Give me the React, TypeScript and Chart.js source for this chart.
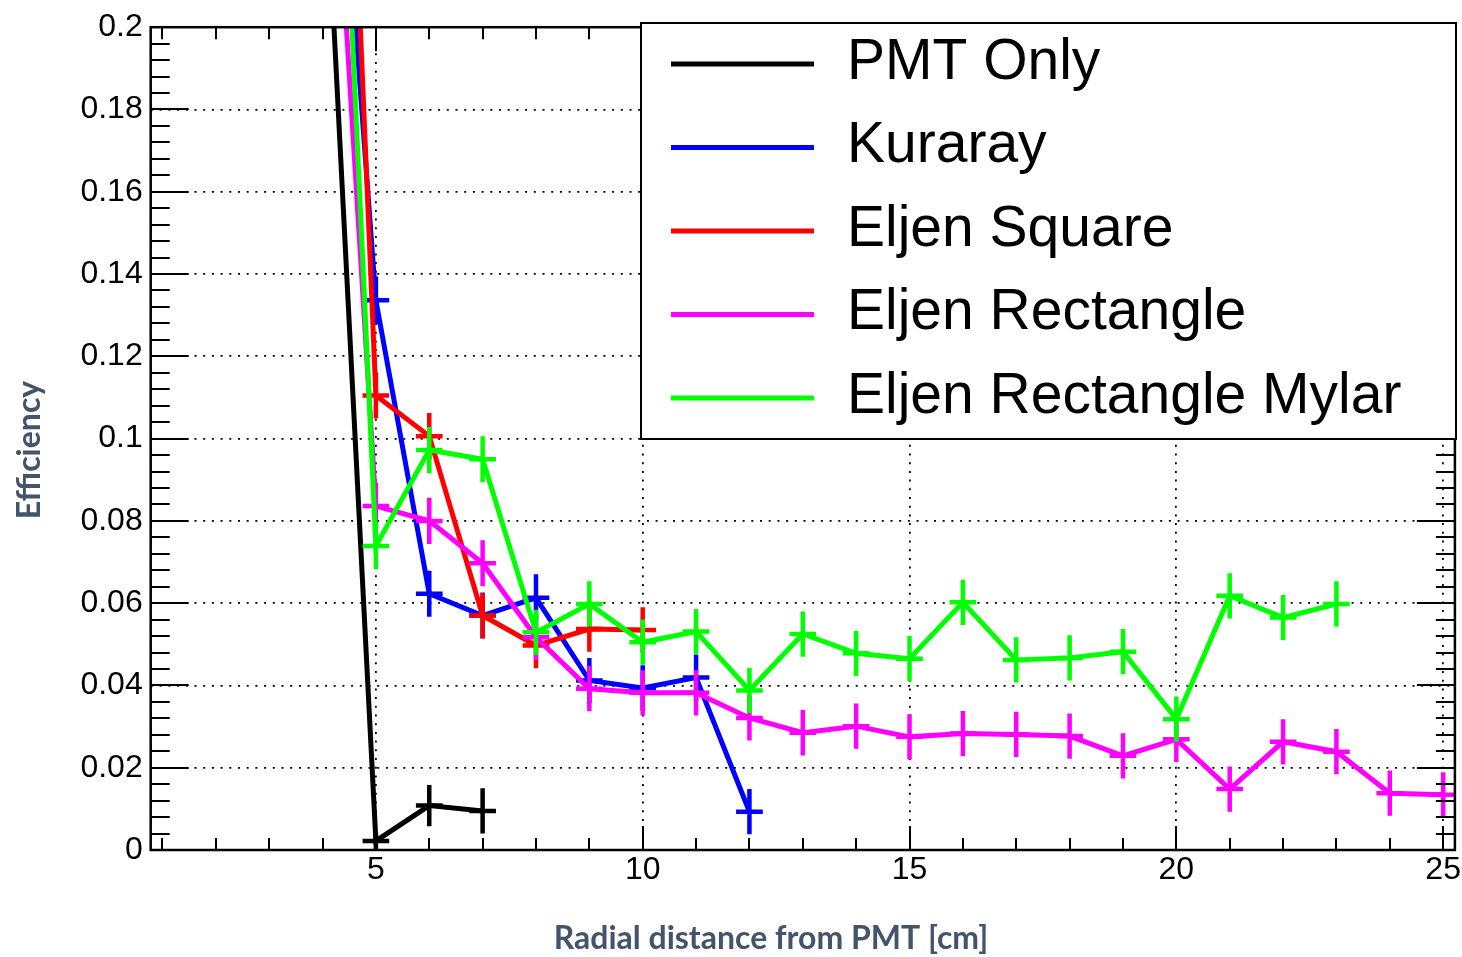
import React, { useEffect, useRef } from 'react';
import { Chart, registerables } from 'chart.js';

Chart.register(...registerables);

// ---- data ----
const X_TICKS = [5, 10, 15, 20, 25];
const Y_TICKS = [0, 0.02, 0.04, 0.06, 0.08, 0.1, 0.12, 0.14, 0.16, 0.18, 0.2];
const SERIES_NAMES = ['PMT Only', 'Kuraray', 'Eljen Square', 'Eljen Rectangle', 'Eljen Rectangle Mylar'];
const SERIES_COLORS = ['#000000', '#0000ff', '#ff0000', '#ff00ff', '#00ff00'];

const PMT_X = [4, 5, 6, 7];
const PMT_Y = [0.254, 0.0022, 0.0108, 0.0095];
const PMT_ERR = [0.0055, 0.002, 0.005, 0.0055];

const KURARAY_X = [4, 5, 6, 7, 8, 9, 10, 11, 12];
const KURARAY_Y = [0.309, 0.1336, 0.0623, 0.057, 0.0613, 0.0412, 0.0394, 0.0419, 0.0093];
const KURARAY_ERR = [0.0058, 0.0058, 0.0056, 0.0056, 0.0057, 0.0055, 0.0055, 0.0056, 0.0055];

const SQUARE_X = [4, 5, 6, 7, 8, 9, 10];
const SQUARE_Y = [0.417, 0.1105, 0.1006, 0.057, 0.0497, 0.0537, 0.0535];
const SQUARE_ERR = [0.0056, 0.0056, 0.0056, 0.0055, 0.0055, 0.0055, 0.0055];

const RECT_X = [4, 5, 6, 7, 8, 9, 10, 11, 12, 13, 14, 15, 16, 17, 18, 19, 20, 21, 22, 23, 24, 25];
const RECT_Y = [0.294, 0.0836, 0.08, 0.0697, 0.0517, 0.0392, 0.0382, 0.0382, 0.0321, 0.0285, 0.0301, 0.0275, 0.0283, 0.0281, 0.0277, 0.0229, 0.0269, 0.0148, 0.0263, 0.0239, 0.0138, 0.0134];
const RECT_ERR = [0.0056, 0.0056, 0.0056, 0.0056, 0.0055, 0.0055, 0.0055, 0.0055, 0.0055, 0.0055, 0.0055, 0.0055, 0.0055, 0.0055, 0.0055, 0.0055, 0.0055, 0.0055, 0.0055, 0.0055, 0.0055, 0.0055];

const MYLAR_X = [4, 5, 6, 7, 8, 9, 10, 11, 12, 13, 14, 15, 16, 17, 18, 19, 20, 21, 22, 23];
const MYLAR_Y = [0.355, 0.0739, 0.0972, 0.095, 0.0529, 0.0598, 0.0505, 0.0531, 0.0388, 0.0525, 0.0478, 0.0465, 0.0602, 0.0462, 0.0467, 0.0482, 0.0318, 0.0618, 0.0565, 0.0598];
const MYLAR_ERR = [0.0056, 0.0056, 0.0056, 0.0056, 0.0055, 0.0055, 0.0055, 0.0055, 0.0055, 0.0055, 0.0055, 0.0055, 0.0055, 0.0055, 0.0055, 0.0055, 0.0055, 0.0055, 0.0055, 0.0055];

const X_MIN = 0.78;
const X_MAX = 25.22;
const Y_MIN = 0;
const Y_MAX = 0.2;
const X_TITLE = 'Radial distance from PMT [cm]';
const Y_TITLE = 'Efficiency';

// ---- style constants ----
const X_HALF_BAR = 0.25; // half-width of the horizontal marker bar (x units)
const X_MINOR_STEP = 1;
const Y_MINOR_STEP = 0.004;
const TITLE_COLOR = '#44546A';

const SERIES_X = [PMT_X, KURARAY_X, SQUARE_X, RECT_X, MYLAR_X];
const SERIES_Y = [PMT_Y, KURARAY_Y, SQUARE_Y, RECT_Y, MYLAR_Y];
const SERIES_ERR = [PMT_ERR, KURARAY_ERR, SQUARE_ERR, RECT_ERR, MYLAR_ERR];

const rootStyle = {
  id: 'rootStyle',
  afterDatasetDraw(chart: any, args: any) {
    const ds: any = chart.data.datasets[args.index];
    const { ctx, chartArea: a, scales } = chart;
    const xs = scales.x;
    const ys = scales.y;
    ctx.save();
    ctx.beginPath();
    ctx.rect(a.left, a.top, a.right - a.left, a.bottom - a.top);
    ctx.clip();
    ctx.strokeStyle = ds.borderColor;
    ctx.lineWidth = 4.5;
    ctx.lineCap = 'butt';
    ds.data.forEach((p: any, i: number) => {
      const px = xs.getPixelForValue(p.x);
      const py = ys.getPixelForValue(p.y);
      const e = ds.errY[i];
      ctx.beginPath();
      ctx.moveTo(xs.getPixelForValue(p.x - X_HALF_BAR), py);
      ctx.lineTo(xs.getPixelForValue(p.x + X_HALF_BAR), py);
      ctx.moveTo(px, ys.getPixelForValue(p.y - e));
      ctx.lineTo(px, ys.getPixelForValue(p.y + e));
      ctx.stroke();
    });
    ctx.restore();
  },
  afterDraw(chart: any) {
    const { ctx, chartArea: a, scales } = chart;
    const xs = scales.x;
    const ys = scales.y;
    ctx.save();
    // inner ticks
    ctx.strokeStyle = '#000';
    ctx.lineWidth = 2;
    ctx.beginPath();
    const nY = Math.round((Y_MAX - Y_MIN) / Y_MINOR_STEP);
    for (let i = 0; i <= nY; i++) {
      const v = Y_MIN + i * Y_MINOR_STEP;
      const major = i % 5 === 0;
      const len = major ? 38 : 19;
      const py = Math.round(ys.getPixelForValue(v));
      ctx.moveTo(a.left, py);
      ctx.lineTo(a.left + len, py);
      ctx.moveTo(a.right, py);
      ctx.lineTo(a.right - len, py);
    }
    for (let v = Math.ceil(X_MIN); v <= X_MAX; v += X_MINOR_STEP) {
      const major = X_TICKS.includes(v);
      const len = major ? 24 : 12;
      const px = Math.round(xs.getPixelForValue(v));
      ctx.moveTo(px, a.bottom);
      ctx.lineTo(px, a.bottom - len);
      ctx.moveTo(px, a.top);
      ctx.lineTo(px, a.top + len);
    }
    ctx.stroke();
    // frame
    ctx.lineWidth = 2.5;
    ctx.strokeRect(a.left, a.top, a.right - a.left, a.bottom - a.top);

    // legend
    const lx = 641, ly = 23, lw = 815, lh = 416;
    ctx.fillStyle = '#fff';
    ctx.fillRect(lx, ly, lw, lh);
    ctx.lineWidth = 2;
    ctx.strokeStyle = '#000';
    ctx.strokeRect(lx, ly, lw, lh);
    ctx.font = '57px "Liberation Sans", Arial, sans-serif';
    ctx.textAlign = 'left';
    ctx.textBaseline = 'middle';
    SERIES_NAMES.forEach((name, i) => {
      const yy = 64 + i * 83.5;
      ctx.strokeStyle = SERIES_COLORS[i];
      ctx.lineWidth = 5;
      ctx.beginPath();
      ctx.moveTo(671, yy);
      ctx.lineTo(814, yy);
      ctx.stroke();
      ctx.fillStyle = '#000';
      ctx.fillText(name, 847, yy - 1);
    });

    // axis titles
    ctx.fillStyle = TITLE_COLOR;
    ctx.font = 'bold 32px Lato, "Open Sans", sans-serif';
    ctx.textAlign = 'center';
    ctx.textBaseline = 'alphabetic';
    ctx.fillText(X_TITLE, 771, 949);
    ctx.save();
    ctx.translate(40, 450);
    ctx.rotate(-Math.PI / 2);
    ctx.fillText(Y_TITLE, 0, 0);
    ctx.restore();
    ctx.restore();
  },
};

export default function App() {
  const ref = useRef<HTMLCanvasElement>(null);
  useEffect(() => {
    if (!ref.current) return;
    const datasets = SERIES_NAMES.map((name, i) => ({
      label: name,
      data: SERIES_X[i].map((x, j) => ({ x, y: SERIES_Y[i][j] })),
      errY: SERIES_ERR[i],
      borderColor: SERIES_COLORS[i],
      backgroundColor: SERIES_COLORS[i],
      borderWidth: 5,
      pointRadius: 0,
      pointHoverRadius: 0,
      tension: 0,
      fill: false,
      clip: 0,
      order: SERIES_NAMES.length - i,
      borderJoinStyle: 'miter',
    }));
    const tickFont = { family: '"Liberation Sans", Arial, sans-serif', size: 32 };
    const chart = new Chart(ref.current, {
      type: 'line',
      data: { datasets: datasets as any },
      options: {
        animation: false,
        responsive: false,
        devicePixelRatio: 1,
        layout: { padding: { left: 0, top: 24.5, right: 5.3, bottom: 0 } },
        plugins: { legend: { display: false }, tooltip: { enabled: false } },
        events: [],
        scales: {
          x: {
            type: 'linear',
            min: X_MIN,
            max: X_MAX,
            afterBuildTicks: (s: any) => {
              s.ticks = X_TICKS.map((v) => ({ value: v }));
            },
            afterFit: (s: any) => {
              s.height = 107;
            },
            ticks: {
              autoSkip: false,
              maxRotation: 0,
              padding: 1,
              color: '#000',
              font: tickFont,
              callback: (v: any) => String(v),
            },
            grid: { color: '#000', lineWidth: 1.8, drawTicks: false, tickLength: 0 },
            border: { display: false, dash: [2, 6.7] },
          },
          y: {
            type: 'linear',
            min: Y_MIN,
            max: Y_MAX,
            afterBuildTicks: (s: any) => {
              s.ticks = Y_TICKS.map((v) => ({ value: v }));
            },
            afterFit: (s: any) => {
              s.width = 150.7;
            },
            ticks: {
              autoSkip: false,
              padding: 8,
              color: '#000',
              font: tickFont,
              callback: (v: any) => String(+Number(v).toFixed(3)),
            },
            grid: { color: '#000', lineWidth: 1.8, drawTicks: false, tickLength: 0 },
            border: { display: false, dash: [2, 6.7] },
          },
        },
      } as any,
      plugins: [rootStyle],
    });
    return () => chart.destroy();
  }, []);
  return (
    <div style={{ position: 'absolute', left: 0, top: 0, width: 1462, height: 957, background: '#fff' }}>
      <canvas ref={ref} width={1462} height={957} style={{ display: 'block', width: 1462, height: 957 }} />
    </div>
  );
}
